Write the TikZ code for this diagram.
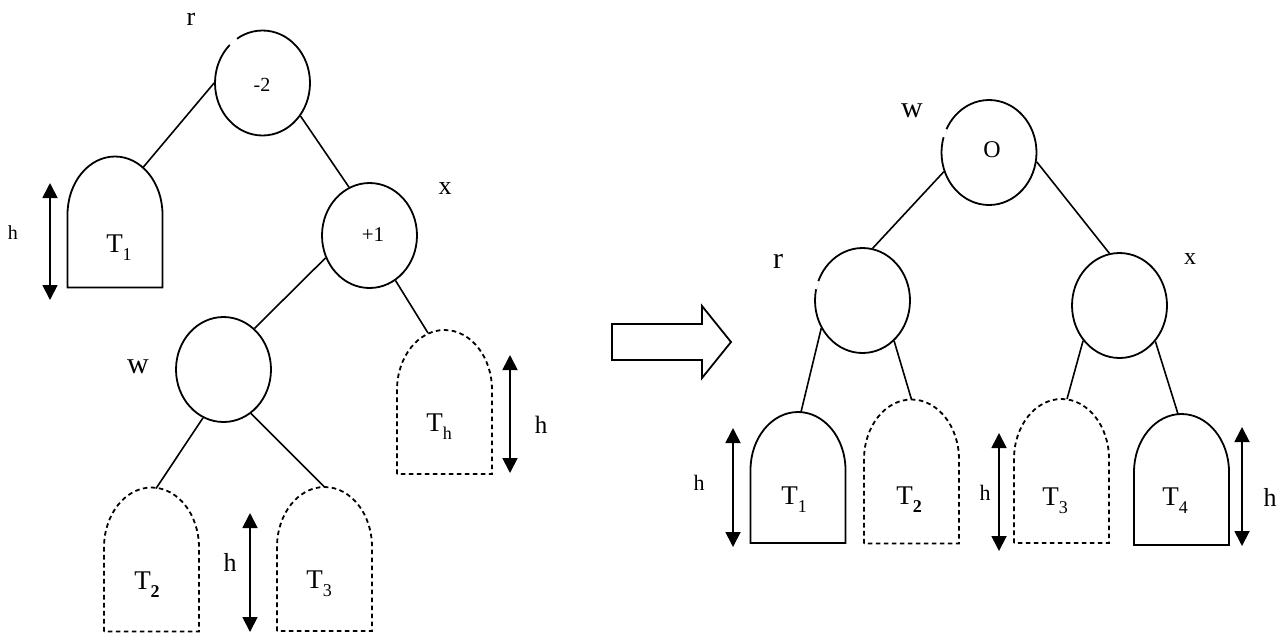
\documentclass[tikz,border=0pt]{standalone}
\usepackage{fontspec}
\setmainfont{Liberation Serif}
\usetikzlibrary{shapes.geometric,arrows.meta,calc}
\newcommand{\fsz}[1]{\fontsize{#1}{#1}\selectfont}
\newcommand{\Tsb}[1]{T\raisebox{-0.3em}{\fontsize{9}{9}\selectfont #1}}
\newcommand{\treedraw}[4]{% name, ry(pt), ry(px), style
  \draw[#4] (#1.south west) -- ($(#1.north west)+(0,-#3)$)
    arc[start angle=180,end angle=0,x radius=23.75pt,y radius=#2]
    -- (#1.south east) -- cycle;}
\begin{document}
\begin{tikzpicture}[x=0.5pt,y=0.5pt,
  bnode/.style={ellipse, draw, line width=0.9pt, minimum width=47.5pt, minimum height=52.5pt, inner sep=0pt},
  subtree/.style={rectangle, inner sep=0pt, outer sep=0pt, minimum width=47.5pt, minimum height=#1},
  solidtree/.style={line width=0.9pt},
  dashtree/.style={line width=0.9pt, dash pattern=on 2.3pt off 1.7pt},
  edge/.style={line width=0.8pt},
  gapmark/.style={white, line width=1.8pt},
  harrow/.style={{Triangle[width=7.5pt,length=7.5pt]}-{Triangle[width=7.5pt,length=7.5pt]}, line width=0.9pt},
  lbl/.style={inner sep=0pt}
  ]
\useasboundingbox (0,0) rectangle (1283,-633);

% ---------- left tree ----------
\node[bnode] (lr) at (262.5,-83) {};
\node[bnode] (lx) at (369.5,-235.5) {};
\node[bnode] (lw) at (223.5,-369.5) {};
\draw[gapmark] (230,-45) -- (237,-39);
\node[lbl, font=\fsz{10}] (lrv) at (262,-85) {-2};
\node[lbl, font=\fsz{10.5}] (lxv) at (373,-235) {+1};
\node[lbl, font=\fsz{13}] (lrn) at (191,-19) {r};
\node[lbl, font=\fsz{13}] (lxn) at (445,-189) {x};
\node[lbl, font=\fsz{15}] (lwn) at (138,-367) {w};

\node[subtree=65.5pt] (lT1) at (115,-222) {};
\node[subtree=72pt] (lTh) at (444.5,-402) {};
\node[subtree=72pt] (lT2) at (151.5,-559.5) {};
\node[subtree=72pt] (lT3) at (324.5,-559) {};
\treedraw{lT1}{29pt}{58}{solidtree}
\treedraw{lTh}{30pt}{60}{dashtree}
\treedraw{lT2}{30pt}{60}{dashtree}
\treedraw{lT3}{30pt}{60}{dashtree}
\node[lbl, font=\fsz{13.5}] (lT1t) at (119,-248) {\Tsb{1}};
\node[lbl, font=\fsz{13.5}] (lTht) at (439,-427) {\Tsb{h}};
\node[lbl, font=\fsz{13.5}] (lT2t) at (147,-585) {\Tsb{\textbf{2}}};
\node[lbl, font=\fsz{13.5}] (lT3t) at (319,-584) {\Tsb{3}};

\draw[edge] (lr.180) -- ($(lT1.north)+(28,-11)$);
\draw[edge] (lr.-41) -- (lx.113);
\draw[edge] (lx.207) -- (lw.53);
\draw[edge] (lx.-60) -- ($(lTh.north)+(-16.5,-3)$);
\draw[edge] (lw.247) -- ($(lT2.north)+(4.5,-1)$);
\draw[edge] (lw.-58) -- (lT3.north);

\coordinate (a1t) at (50,-183); \coordinate (a1b) at (50,-300);
\coordinate (a2t) at (510,-355); \coordinate (a2b) at (510,-473);
\coordinate (a3t) at (250,-513); \coordinate (a3b) at (250,-632);
\draw[harrow] (a1t) -- (a1b);
\draw[harrow] (a2t) -- (a2b);
\draw[harrow] (a3t) -- (a3b);
\node[lbl, font=\fsz{10}] (h1) at (13,-233) {h};
\node[lbl, font=\fsz{12.5}] (h2) at (541,-425) {h};
\node[lbl, font=\fsz{13}] (h3) at (230,-562) {h};

% ---------- block arrow ----------
\draw[line width=0.9pt] (612,-324) -- (702,-324) -- (702,-306) -- (731,-342)
  -- (702,-378) -- (702,-360) -- (612,-360) -- cycle;

% ---------- right tree ----------
\node[bnode] (rO) at (989,-152.5) {};
\node[bnode] (rr) at (862.5,-300.5) {};
\node[bnode] (rx) at (1119.5,-305.5) {};
\draw[gapmark] (945.5,-129) -- (943.5,-137);
\draw[gapmark] (817.5,-281) -- (815.5,-289);
\node[lbl, font=\fsz{12}] (rOv) at (992,-150) {O};
\node[lbl, font=\fsz{15}] (rwn) at (912,-111) {w};
\node[lbl, font=\fsz{15}] (rrn) at (778,-261) {r};
\node[lbl, font=\fsz{12}] (rxn) at (1190,-259) {x};

\node[subtree=65.5pt] (rT1) at (798,-477.5) {};
\node[subtree=72pt] (rT2) at (911.5,-471.5) {};
\node[subtree=72pt] (rT3) at (1061.5,-471) {};
\node[subtree=65.5pt] (rT4) at (1181.5,-479.5) {};
\treedraw{rT1}{29pt}{58}{solidtree}
\treedraw{rT2}{30pt}{60}{dashtree}
\treedraw{rT3}{30pt}{60}{dashtree}
\treedraw{rT4}{29pt}{58}{solidtree}
\node[lbl, font=\fsz{13.5}] (rT1t) at (794,-500) {\Tsb{1}};
\node[lbl, font=\fsz{13.5}] (rT2t) at (909,-500) {\Tsb{\textbf{2}}};
\node[lbl, font=\fsz{13.5}] (rT3t) at (1055,-501) {\Tsb{3}};
\node[lbl, font=\fsz{13.5}] (rT4t) at (1175,-501) {\Tsb{4}};

\draw[edge] (rO.203) -- (rr.79);
\draw[edge] (rO.-11) -- (rx.101);
\draw[edge] (rr.214) -- ($(rT1.north)+(3,0)$);
\draw[edge] (rr.-52) -- (rT2.north);
\draw[edge] (rx.224) -- ($(rT3.north)+(5.5,0)$);
\draw[edge] (rx.-45) -- ($(rT4.north)+(-3.5,0)$);

\coordinate (b1t) at (733,-428); \coordinate (b1b) at (733,-547);
\coordinate (b2t) at (999,-433); \coordinate (b2b) at (999,-551);
\coordinate (b3t) at (1242,-427); \coordinate (b3b) at (1242,-546);
\draw[harrow] (b1t) -- (b1b);
\draw[harrow] (b2t) -- (b2b);
\draw[harrow] (b3t) -- (b3b);
\node[lbl, font=\fsz{11}] (hr1) at (699,-483) {h};
\node[lbl, font=\fsz{11}] (hr2) at (985,-493) {h};
\node[lbl, font=\fsz{13}] (hr3) at (1270,-497) {h};
\end{tikzpicture}
\end{document}
